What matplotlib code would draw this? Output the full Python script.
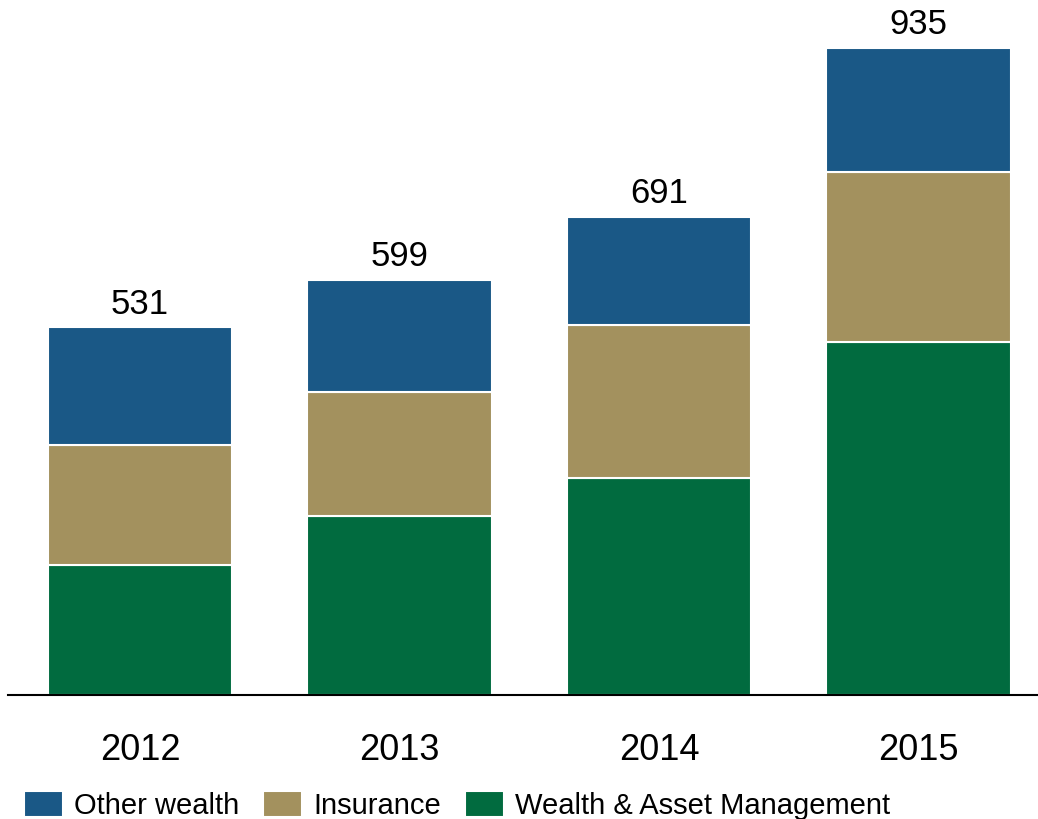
import matplotlib
matplotlib.use("Agg")
import matplotlib.pyplot as plt

years = ["2012", "2013", "2014", "2015"]
wam = [188, 258, 314, 510]
insurance = [173, 180, 220, 246]
other = [170, 161, 157, 179]
totals = [531, 599, 691, 935]

c_other = "#1A5886"
c_ins = "#A3915E"
c_wam = "#016B3F"

plt.rcParams['font.family'] = ['Liberation Sans', 'DejaVu Sans']

fig = plt.figure(figsize=(10.38, 8.19), dpi=100)
ax = fig.add_axes([8/1038, 1-695/819, 1030/1038, 695/819])

x = list(range(len(years)))
w = 0.71
b1 = ax.bar(x, wam, w, color=c_wam, edgecolor="white", linewidth=1.5, label="Wealth & Asset Management")
bot2 = wam
b2 = ax.bar(x, insurance, w, bottom=bot2, color=c_ins, edgecolor="white", linewidth=1.5, label="Insurance")
bot3 = [a + b for a, b in zip(wam, insurance)]
b3 = ax.bar(x, other, w, bottom=bot3, color=c_other, edgecolor="white", linewidth=1.5, label="Other wealth")

for xi, t, o, b in zip(x, totals, other, bot3):
    ax.text(xi, b + o + 10, str(t), ha="center", va="bottom", fontsize=25)

ax.set_xlim(-0.509, 3.46)
ax.set_ylim(0, 1004)
ax.set_xticks(x)
ax.set_xticklabels(years, fontsize=26)
ax.tick_params(axis="x", length=0, pad=27)
ax.set_yticks([])
for s in ["top", "right", "left"]:
    ax.spines[s].set_visible(False)
ax.spines["bottom"].set_linewidth(1.5)
ax.spines["bottom"].set_color("black")

fig.legend(handles=[b3, b2, b1], labels=["Other wealth", "Insurance", "Wealth & Asset Management"],
           loc="lower left", bbox_to_anchor=(12/1038, -13/819), ncol=3, frameon=False,
           fontsize=21, handlelength=1.34, handleheight=1.0, handletextpad=0.38,
           columnspacing=0.82, borderaxespad=0)

fig.savefig("out.png", dpi=100)
